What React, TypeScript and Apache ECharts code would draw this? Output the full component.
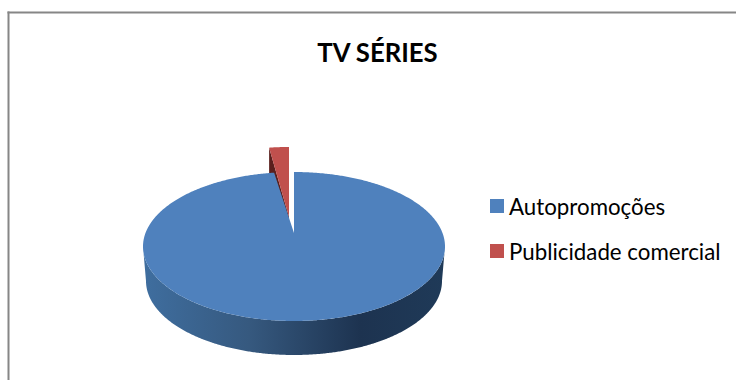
import React, { useEffect, useRef } from "react";
import * as echarts from "echarts";

const categories = ["Autopromoções", "Publicidade comercial"];
const shares = [97.9, 2.1];
const faceColors = ["#4f81bd", "#c0504d"];
const chartTitle = "TV SÉRIES";

// Projected disc geometry
const DISC = { cx: 294, cy: 246.5, rx: 151, ry: 74.5, apexY: 233 };
const BASE = { cy: 281, rx: 148, ry: 74 };
const EXPLODE = { dx: -5, rimDy: -25, apexDy: -16, depth: 34 };

const rimPoint = (deg: number, cx: number, cy: number, rx: number, ry: number) => {
  const a = (deg * Math.PI) / 180;
  return [cx + rx * Math.sin(a), cy - ry * Math.cos(a)];
};

const arcPoints = (from: number, to: number, cx: number, cy: number, rx: number, ry: number) => {
  const steps = Math.max(2, Math.ceil(Math.abs(to - from) * 2));
  const pts: number[][] = [];
  for (let i = 0; i <= steps; i++) {
    pts.push(rimPoint(from + ((to - from) * i) / steps, cx, cy, rx, ry));
  }
  return pts;
};

const renderMain = (_p: any, api: any) => {
  const from = (api.value(0) / 100) * 360;
  const to = ((api.value(0) + api.value(1)) / 100) * 360;
  const wall = [
    ...arcPoints(90, 270, DISC.cx, DISC.cy, DISC.rx, DISC.ry),
    ...arcPoints(270, 90, DISC.cx, BASE.cy, BASE.rx, BASE.ry),
  ];
  const face = [[DISC.cx, DISC.apexY], ...arcPoints(from, to, DISC.cx, DISC.cy, DISC.rx, DISC.ry)];
  return {
    type: "group",
    children: [
      {
        type: "polygon",
        shape: { points: wall },
        style: {
          fill: new echarts.graphic.LinearGradient(0, 0, 1, 0, [
            { offset: 0, color: "#3f6e9f" },
            { offset: 0.35, color: "#36597f" },
            { offset: 0.72, color: "#1d3350" },
            { offset: 1, color: "#1f3a58" },
          ]),
        },
      },
      { type: "polygon", shape: { points: face }, style: { fill: faceColors[0] } },
    ],
  };
};

const renderExploded = (_p: any, api: any) => {
  const from = (api.value(0) / 100) * 360;
  const to = ((api.value(0) + api.value(1)) / 100) * 360;
  const cx = DISC.cx + EXPLODE.dx;
  const cy = DISC.cy + EXPLODE.rimDy;
  const apex = [cx, DISC.apexY + EXPLODE.apexDy];
  const left = rimPoint(from, cx, cy, DISC.rx, DISC.ry);
  const cut = [left, apex, [apex[0], apex[1] + EXPLODE.depth], [left[0], left[1] + EXPLODE.depth]];
  return {
    type: "group",
    children: [
      { type: "polygon", shape: { points: cut }, style: { fill: "#5a1f1d" } },
      {
        type: "polygon",
        shape: { points: [apex, ...arcPoints(from, to, cx, cy, DISC.rx, DISC.ry)] },
        style: { fill: faceColors[1] },
      },
    ],
  };
};

export default function App() {
  const ref = useRef<HTMLDivElement>(null);
  useEffect(() => {
    const chart = echarts.init(ref.current!, null, { renderer: "svg" });
    chart.setOption({
      animation: false,
      backgroundColor: "#ffffff",
      color: faceColors,
      title: {
        text: chartTitle,
        left: 377.5,
        top: 38,
        textAlign: "center",
        padding: 0,
        textStyle: { fontFamily: "Lato", fontWeight: "bold", fontSize: 25.7, lineHeight: 28, color: "#000000" },
      },
      legend: {
        data: categories,
        orient: "vertical",
        left: 490,
        top: 195,
        padding: 0,
        icon: "rect",
        itemWidth: 14,
        itemHeight: 14,
        itemGap: 23,
        textStyle: { fontFamily: "Lato", fontSize: 22.3, lineHeight: 22, color: "#000000" },
        selectedMode: false,
      },
      graphic: [
        { type: "rect", shape: { x: 7.5, y: 11.5, width: 729, height: 2 }, style: { fill: "#868686" } },
        { type: "rect", shape: { x: 7.5, y: 11.5, width: 2, height: 369 }, style: { fill: "#868686" } },
      ],
      series: [
        {
          type: "custom",
          name: categories[0],
          coordinateSystem: "none",
          z: 3,
          data: [[0, shares[0]]],
          renderItem: renderMain,
        },
        {
          type: "custom",
          name: categories[1],
          coordinateSystem: "none",
          z: 2,
          data: [[shares[0], shares[1]]],
          renderItem: renderExploded,
        },
      ],
    });
    return () => chart.dispose();
  }, []);
  return <div ref={ref} style={{ position: "absolute", left: 0, top: 0, width: 736, height: 380 }} />;
}
